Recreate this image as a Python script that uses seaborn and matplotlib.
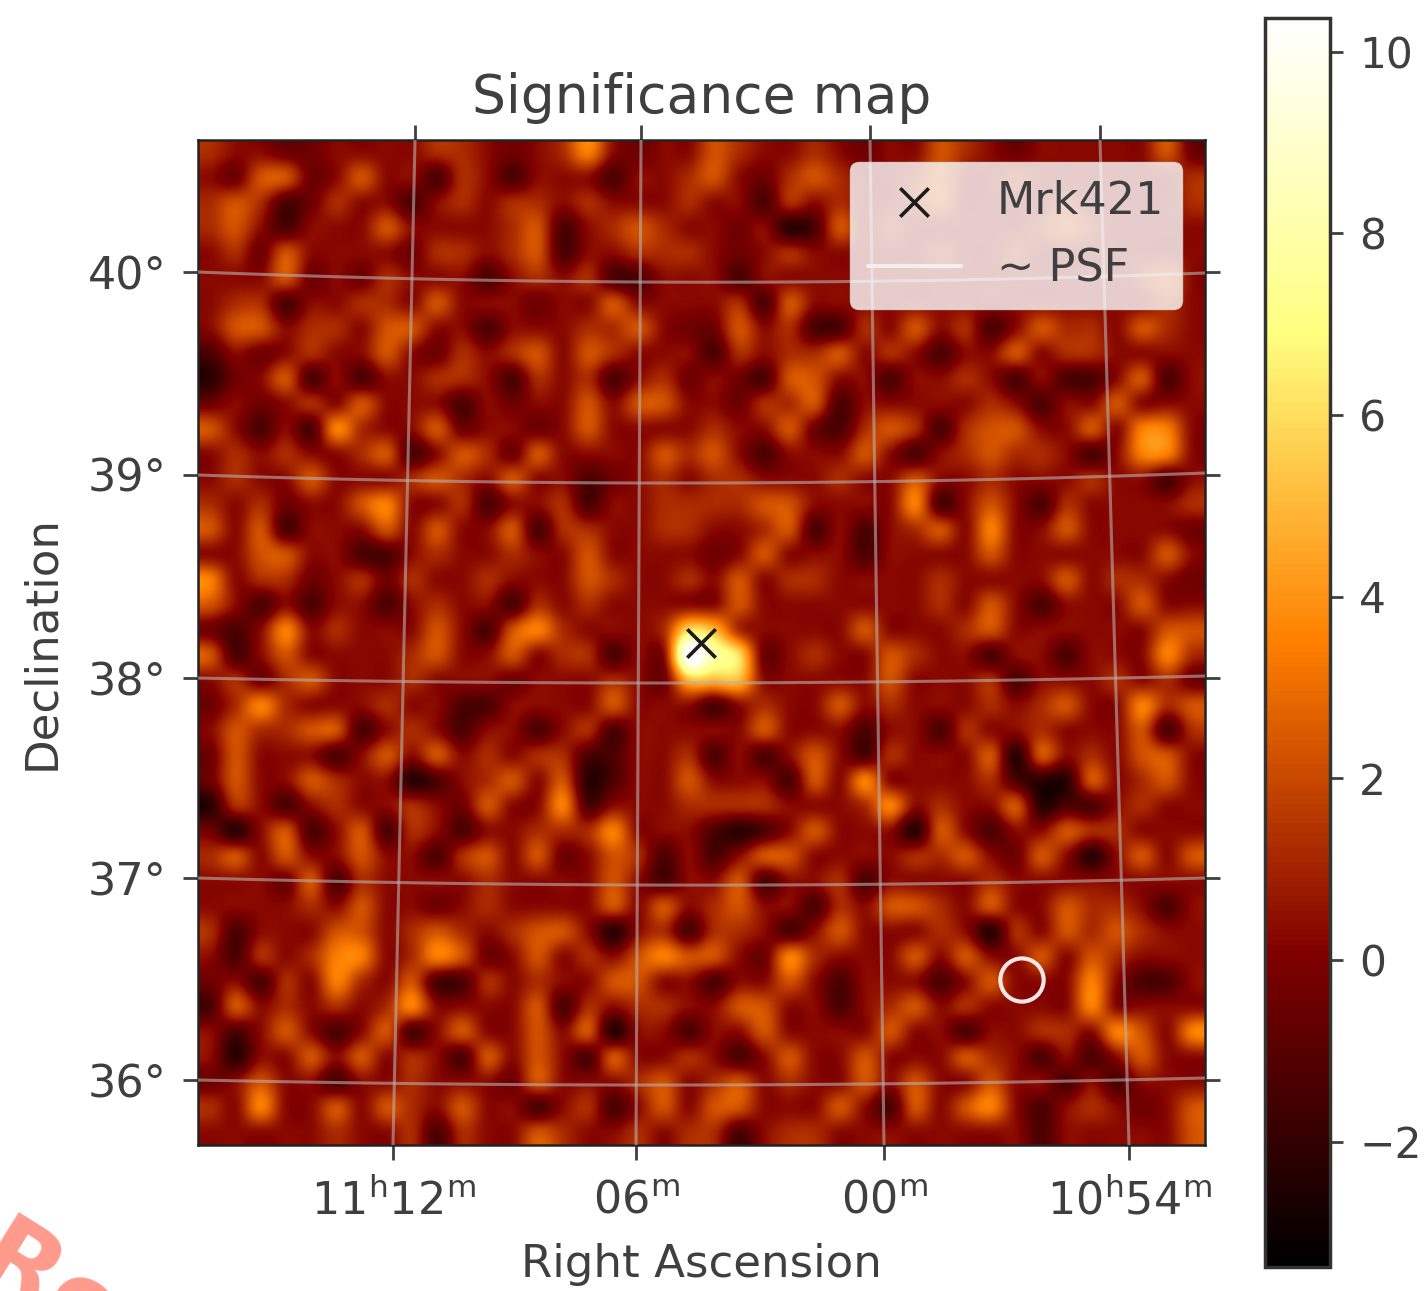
import numpy as np
import matplotlib
matplotlib.use("Agg")
import matplotlib.pyplot as plt
from matplotlib.lines import Line2D
from matplotlib.patches import Circle
import seaborn as sns

top_left = [
[2,1,1,0,0,1,1,1,1,2,2,1,0,1,2,4,1,0,1,1],
[1,0,3,3,0,1,3,1,1,-1,2,1,-1,1,1,1,-1,1,1,2],
[2,3,2,-1,0,2,1,1,-1,1,2,1,2,2,1,2,1,1,1,2],
[2,3,1,-1,1,1,1,3,1,1,1,1,2,3,-1,1,2,3,2,1],
[1,2,0,3,1,1,1,1,0,2,2,1,2,3,-1,1,1,2,2,2],
[1,1,1,3,0,1,0,2,1,1,1,-1,1,2,1,2,-1,-1,1,1],
[1,2,2,-1,1,1,2,2,1,3,1,1,1,0,1,1,3,1,1,1],
[1,3,3,1,2,2,1,3,3,1,1,-1,1,1,1,2,2,3,1,0],
[-1,1,0,1,2,1,1,3,1,0,2,1,2,3,1,3,2,1,1,1],
[-2,0,1,3,-1,1,-1,1,1,2,2,1,-1,2,1,2,-1,1,2,0],
[0,1,0,1,2,1,3,1,1,1,-1,1,0,1,1,3,1,3,3,1],
[3,1,-1,1,-1,4,2,1,1,3,0,1,1,0,1,3,1,1,1,1],
[1,2,1,2,1,1,2,3,-1,1,3,2,0,3,1,1,1,1,3,2],
[1,2,1,1,3,1,1,1,2,3,2,1,3,1,1,-1,0,1,2,1],
[2,1,2,0,1,1,3,4,1,1,2,-1,1,1,2,-1,1,1,2,2],
[3,1,3,-1,1,1,1,3,1,3,1,1,3,-1,2,2,1,1,2,2],
[1,1,3,3,1,1,-1,-1,1,2,1,1,2,1,1,3,1,1,1,1],
[4,1,2,2,0,1,2,0,2,1,1,2,1,1,1,3,2,1,1,2],
[3,1,-1,1,-1,1,1,-1,1,2,1,1,-1,2,1,2,1,1,1,1],
[0,-1,1,4,1,2,1,1,1,3,1,-1,3,4,2,1,1,1,2,6],
]
top_right = [
[3,2,1,1,2,1,0,1,1,3,2,1,0,1,1,1,1,1,3,0],
[3,1,0,2,3,2,1,1,2,3,1,1,2,1,1,1,1,1,1,2],
[1,1,-1,2,1,2,1,1,2,3,1,1,1,1,2,1,1,1,1,2],
[1,0,1,-2,-1,3,1,2,1,1,1,1,1,2,3,2,1,1,1,1],
[1,0,1,2,1,1,1,1,1,2,1,1,2,1,1,1,1,1,1,1],
[1,-1,1,1,1,1,1,1,1,1,1,1,1,1,1,1,1,2,3,1],
[1,2,-1,3,1,1,1,1,1,1,1,1,1,1,1,1,1,1,2,1],
[0,3,1,2,-1,-1,2,1,3,1,2,-1,1,3,2,2,1,3,2,1],
[-1,2,1,2,2,3,1,2,1,-1,1,1,3,1,2,2,1,1,1,1],
[1,0,-1,3,3,1,1,-1,1,1,2,1,-1,1,-1,-1,1,3,-1,1],
[1,0,2,2,3,-1,1,1,1,1,1,2,1,-1,1,1,3,1,1,1],
[2,1,1,3,0,-1,2,3,2,-1,2,3,3,1,1,3,1,4,4,1],
[3,1,-1,1,1,1,3,1,-1,1,2,3,2,2,1,-1,1,4,4,1],
[2,2,1,1,1,2,1,1,3,1,1,2,1,1,1,2,1,1,-1,1],
[2,2,3,3,1,1,1,1,4,-1,1,3,1,-1,2,1,1,1,1,2],
[1,1,2,3,-1,1,-1,1,2,3,1,4,1,1,3,1,1,1,1,0],
[0,1,3,1,1,1,-1,1,1,1,1,3,1,1,1,1,1,1,3,1],
[1,3,1,2,2,1,1,1,1,2,1,1,1,1,3,1,2,2,1,0],
[1,3,1,1,1,1,1,1,1,2,1,3,1,-1,1,1,1,3,1,1],
[5,2,1,1,1,1,3,1,1,1,2,3,1,1,1,1,1,1,3,3],
]
bottom_left = [
[3,-1,1,3,1,1,1,1,2,3,1,1,3,1,2,2,-1,1,1,11],
[1,2,0,2,3,1,1,1,2,1,1,1,0,1,1,1,2,1,0,5],
[0,2,4,2,1,1,1,2,1,1,-1,-1,1,1,1,1,3,1,1,1],
[1,3,2,2,3,3,-1,1,2,1,-1,1,1,-1,1,2,-1,1,1,1],
[0,3,1,1,1,-1,1,3,1,3,1,2,1,2,2,-1,-1,1,1,2],
[0,3,1,1,3,2,1,1,-2,-1,1,2,3,1,3,-2,-1,1,1,3],
[-2,2,1,-1,1,2,1,1,2,1,0,3,1,1,4,-1,1,1,1,2],
[0,-2,1,3,-1,1,3,-1,2,1,-1,1,1,2,2,2,4,1,1,1],
[2,3,1,3,1,1,3,1,1,-1,2,3,1,3,0,1,3,2,-1,1],
[1,1,1,0,3,-1,2,1,1,1,1,2,1,1,1,1,3,1,-1,1],
[1,1,1,1,2,1,3,1,1,0,1,2,1,1,1,1,3,1,3,1],
[2,-1,1,1,1,3,3,1,2,3,2,1,2,3,3,1,-2,1,2,-1],
[1,-1,2,1,2,4,4,1,2,4,3,0,1,3,1,2,1,3,4,3],
[0,1,-1,2,1,4,2,1,3,-1,-1,2,1,2,1,1,3,3,1,1],
[-1,3,1,2,1,2,1,2,4,1,1,1,1,3,-1,2,1,2,2,1],
[1,-1,1,3,1,-1,1,3,-1,1,3,1,1,3,1,3,-2,1,1,-1],
[1,-2,1,1,3,1,3,1,2,1,-1,3,1,3,1,-1,3,1,1,2],
[0,1,3,1,1,-1,1,1,2,1,1,1,0,3,1,1,1,2,3,1],
[2,1,4,1,1,3,1,3,2,1,3,1,1,-1,1,2,-1,1,3,1],
[1,1,1,1,1,2,1,1,2,-1,2,1,1,3,2,1,1,2,1,2],
]
bottom_right = [
[8,6,0,1,2,1,1,3,2,1,1,-1,1,1,-1,1,1,1,4,2],
[5,5,1,1,1,1,1,3,1,1,1,2,-1,1,1,1,2,1,2,0],
[-1,1,2,1,1,3,1,2,1,1,1,2,1,2,3,1,1,4,2,3],
[1,1,3,1,1,1,-1,1,1,-1,2,1,1,2,1,1,1,3,-1,2],
[-1,1,-1,1,3,1,-1,2,1,1,1,3,-2,3,1,2,1,3,3,1],
[1,1,1,-1,3,1,4,1,1,1,1,2,-1,-2,-2,3,1,2,3,1],
[2,2,2,1,1,1,2,4,1,2,1,1,3,-2,-1,-1,1,2,1,1],
[-1,-2,-1,1,3,1,1,1,-2,3,1,-1,1,1,3,2,2,1,1,1],
[-1,1,3,3,1,1,1,1,2,2,3,1,0,3,1,-2,1,3,1,3],
[1,3,-1,1,1,2,-1,1,1,1,1,2,1,1,1,1,1,1,1,1],
[2,3,1,1,-1,2,1,3,3,2,1,3,1,1,3,2,2,1,-1,1],
[2,2,1,-1,1,3,1,1,1,2,1,-2,2,1,3,2,3,2,1,1],
[3,1,0,4,2,1,1,1,3,1,3,1,1,3,1,3,2,1,1,1],
[-1,1,1,3,1,-1,1,1,1,-1,1,3,1,1,1,4,1,-1,-1,1],
[1,3,3,1,1,-1,1,2,3,1,2,1,1,1,1,4,1,1,1,1],
[1,1,3,1,1,1,1,3,1,1,-1,1,1,2,2,1,4,3,1,4],
[1,-1,1,3,1,1,3,1,1,1,3,2,1,-1,1,-1,1,3,1,1],
[2,3,1,2,1,1,3,1,3,1,1,3,1,1,-1,1,-1,1,1,1],
[3,3,1,1,1,3,1,-1,3,1,3,4,1,-1,1,2,1,0,1,3],
[2,-1,1,2,2,1,1,1,1,1,1,1,1,-1,1,1,1,1,1,3],
]

# brightness classes -> approximate significance
level_codes = [-2, -1, 0, 1, 2, 3, 4]
level_values = [-2.2, -1.3, -0.4, 0.3, 1.2, 2.2, 3.4]

dec_labels = ["40°", "39°", "38°", "37°", "36°"]
ra_labels = [r"$11^{\mathrm{h}}12^{\mathrm{m}}$", r"$06^{\mathrm{m}}$",
             r"$00^{\mathrm{m}}$", r"$10^{\mathrm{h}}54^{\mathrm{m}}$"]
cbar_ticks = [-2, 0, 2, 4, 6, 8, 10]

W, H = 1424, 1291
L, R, T, B = 198, 1205, 140, 1145
codes = np.block([[np.array(top_left), np.array(top_right)],
                  [np.array(bottom_left), np.array(bottom_right)]]).astype(float)
sig = codes.copy()
for c, v in zip(level_codes, level_values):
    sig[codes == c] = v
ny, nx = sig.shape
px = lambda x: (np.asarray(x, float) - L) / (R - L) * nx
py = lambda y: (np.asarray(y, float) - T) / (B - T) * ny

sns.set_theme(style="white")
plt.rcParams["font.family"] = ["DejaVu Sans"]
plt.rcParams["mathtext.default"] = "regular"
INK = "#3f3f3f"

fig = plt.figure(figsize=(W / 100, H / 100), dpi=100)
ax = fig.add_axes([L / W, 1 - B / H, (R - L) / W, (B - T) / H])
cax = fig.add_axes([1265 / W, 1 - 1267 / H, 65 / W, 1249 / H])

VMIN, VMAX = -3.38, 10.37
sns.heatmap(sig, ax=ax, cbar_ax=cax, cmap="afmhot", vmin=VMIN, vmax=VMAX,
            xticklabels=False, yticklabels=False)
ax.imshow(sig, cmap="afmhot", vmin=VMIN, vmax=VMAX, interpolation="catrom",
          extent=(0, nx, ny, 0), aspect="auto", zorder=2)
ax.set_xlim(0, nx)
ax.set_ylim(ny, 0)

GRID = dict(color="#b9b0b0", lw=2.2, alpha=0.6, zorder=3)
ra_top = [415, 641, 870, 1100]
ra_bottom = [393, 636, 884, 1129]
for a, b in zip(ra_top, ra_bottom):
    ax.plot(px([a, b]), py([T, B]), **GRID)
dec_edge_l = [272, 475, 678, 878, 1080]
dec_mid = [282, 483, 683, 885, 1085]
dec_edge_r = [273, 473, 676, 878, 1078]
xs = np.linspace(L, R, 60)
for l, m, r in zip(dec_edge_l, dec_mid, dec_edge_r):
    c = np.polyfit([L, 640, R], [l, m, r], 2)
    ax.plot(px(xs), py(np.polyval(c, xs)), **GRID)

ax.set_xticks(px(ra_bottom), ra_labels)
ax.set_yticks(py(dec_edge_l), dec_labels)
ax.tick_params(axis="x", length=10.5, width=2, color=INK, labelcolor=INK, labelsize=32, bottom=True, pad=14)
ax.tick_params(axis="y", length=10.5, width=2, color=INK, labelcolor=INK, labelsize=32, left=True, right=True, pad=12)
sec = ax.secondary_xaxis("top")
sec.set_xticks(px(ra_top), [""] * 4)
sec.tick_params(length=10.5, width=2, color=INK)
sec.spines["top"].set_visible(False)
for s in ax.spines.values():
    s.set_visible(True)
    s.set_color("#222222")
    s.set_linewidth(1.8)

ax.set_title("Significance map", fontsize=38.5, color=INK, pad=19.5)
ax.set_xlabel("Right Ascension", fontsize=32.5, color=INK, labelpad=14)
ax.set_ylabel("Declination", fontsize=32.5, color=INK, labelpad=18)

ax.scatter(px(701), py(643), marker="x", s=420, color="#1c1c1c", linewidths=2.6,
           zorder=5, label="Mrk421")
ax.add_patch(Circle((px(1022), py(980)), 0.86, fill=False, ec="#f2e6e6", lw=3, zorder=5))
psf = Line2D([], [], color="#f5eeee", lw=3, label="~ PSF")
h, l = ax.get_legend_handles_labels()
leg = ax.legend(h + [psf], l + ["~ PSF"], loc="upper right", fontsize=32, labelcolor=INK,
                frameon=True, framealpha=0.8, facecolor="white", edgecolor="#dddddd",
                bbox_to_anchor=(0.977, 0.978), borderaxespad=0, handlelength=2.1,
                labelspacing=0.56)
leg.set_zorder(6)

cb = ax.collections[0].colorbar
cb.set_ticks(cbar_ticks)
cb.ax.tick_params(length=9, width=2, color=INK, labelcolor=INK, labelsize=30.5, pad=12, right=True)
cb.outline.set_visible(True)
cb.outline.set_edgecolor("#333333")
cb.outline.set_linewidth(2.5)

fig.text(-32 / W, 1 - 1276 / H, "Re", fontsize=75, fontweight="bold", color="#ff9a8c",
         rotation=-32, rotation_mode="anchor", ha="left", va="baseline")

fig.savefig("out.png", dpi=100)
